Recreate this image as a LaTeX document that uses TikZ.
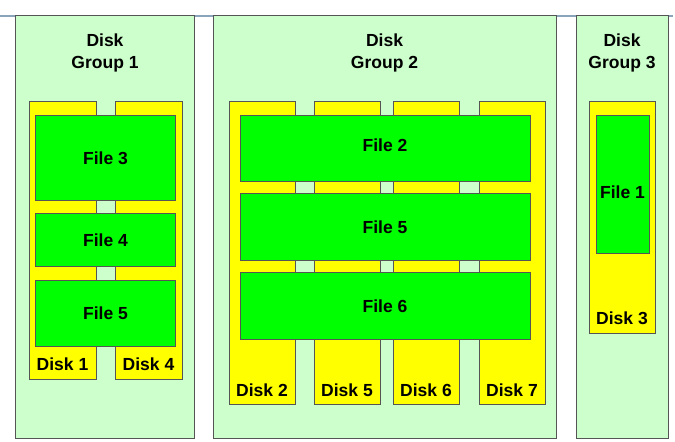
\documentclass[tikz,border=0pt]{standalone}
\usepackage{fontspec}
\setmainfont{Liberation Sans}
\usetikzlibrary{positioning}

\definecolor{grpbg}{HTML}{CCFFCC}
\definecolor{diskyel}{HTML}{FFFF00}
\definecolor{filegreen}{HTML}{00FF00}
\definecolor{edgegray}{HTML}{555555}
\definecolor{rulegray}{HTML}{8AA4BB}

\begin{document}
\begin{tikzpicture}[x=1bp, y=-1bp, node distance=2bp]
        \tikzstyle{group} = [rectangle, draw=edgegray, line width=1bp, fill=grpbg, inner sep=0pt]
        \tikzstyle{disk} = [rectangle, draw=edgegray, line width=1bp, fill=diskyel, inner sep=0pt]
        \tikzstyle{file} = [rectangle, draw=edgegray, line width=1bp, fill=filegreen, inner sep=0pt, font=\fontsize{17.5bp}{21bp}\selectfont\bfseries]
        \tikzstyle{title} = [align=center, inner sep=0pt, font=\fontsize{17.5bp}{22bp}\selectfont\bfseries]
        \tikzstyle{disklabel} = [inner sep=0pt, font=\fontsize{17.5bp}{21bp}\selectfont\bfseries]

        \useasboundingbox (0,0) rectangle (675,442);
        \coordinate (ruleL) at (0,16);
        \coordinate (ruleR) at (673,16);
        \draw [rulegray, line width=1.2bp] (ruleL) -- (ruleR);

        % disk groups
        \node [group, minimum width=178bp, minimum height=422bp] (grp1) at (105,227) {};
        \node [group, minimum width=343bp, minimum height=422bp] (grp2) at (384.5,227) {};
        \node [group, minimum width=92bp, minimum height=422bp] (grp3) at (622,227) {};
        \node [title] (t1) at (105,52.5) {Disk\\Group 1};
        \node [title] (t2) at (384.5,52.5) {Disk\\Group 2};
        \node [title] (t3) at (622,52.5) {Disk\\Group 3};

        % group 1
        \node [disk, minimum width=67bp, minimum height=277bp] (d1) at (62.5,240.5) {};
        \node [disk, minimum width=67bp, minimum height=277bp] (d4) at (148.5,240.5) {};
        \node [disklabel, above=9bp of d1.south] (l1) {Disk 1};
        \node [disklabel, above=9bp of d4.south] (l4) {Disk 4};
        \node [file, minimum width=139bp, minimum height=85bp] (f3) at (105.5,158.5) {File 3};
        \node [file, minimum width=139bp, minimum height=53bp] (f4) at (105.5,240.5) {File 4};
        \node [file, minimum width=139bp, minimum height=65bp] (f5a) at (105.5,313.5) {File 5};

        % group 2
        \node [disk, minimum width=66bp, minimum height=302bp] (d2) at (262,253) {};
        \node [disk, minimum width=66bp, minimum height=302bp] (d5) at (347,253) {};
        \node [disk, minimum width=66bp, minimum height=302bp] (d6) at (426,253) {};
        \node [disk, minimum width=66bp, minimum height=302bp] (d7) at (512,253) {};
        \node [disklabel, above=8bp of d2.south] (l2) {Disk 2};
        \node [disklabel, above=8bp of d5.south] (l5) {Disk 5};
        \node [disklabel, above=8bp of d6.south] (l6) {Disk 6};
        \node [disklabel, above=8bp of d7.south] (l7) {Disk 7};
        \node [file, minimum width=290bp, minimum height=66bp, text height=5bp, text depth=0pt] (f2) at (385,149) {File 2};
        \node [file, minimum width=290bp, minimum height=67bp] (f5b) at (385,227.5) {File 5};
        \node [file, minimum width=290bp, minimum height=66bp] (f6) at (385,306) {File 6};

        % group 3
        \node [disk, minimum width=66bp, minimum height=231bp] (d3) at (622,217.5) {};
        \node [disklabel, above=9bp of d3.south] (l3) {Disk 3};
        \node [file, minimum width=53bp, minimum height=138bp, text height=28bp, text depth=0pt] (f1) at (622.5,185) {File 1};
    \end{tikzpicture}
\end{document}
